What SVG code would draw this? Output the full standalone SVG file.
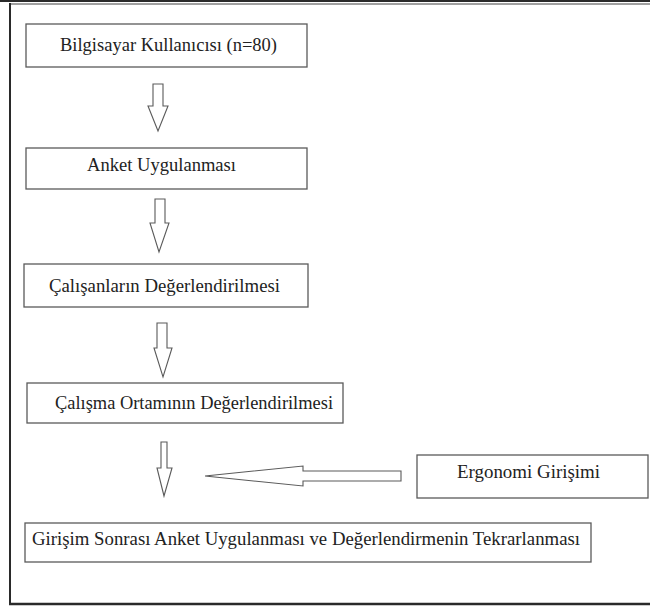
<svg xmlns="http://www.w3.org/2000/svg" width="650" height="607" viewBox="0 0 650 607">
<style>
.box{fill:#fff;stroke:#5a5a5a;stroke-width:1.3}
.arr{fill:#fff;stroke:#5a5a5a;stroke-width:1.1;stroke-linejoin:miter}
.t{font-family:'Liberation Serif','Times New Roman',serif;font-size:18.5px;fill:#222}
</style>
<rect width="650" height="607" fill="#fff"/>
<g id="frame">
<line x1="0" y1="1" x2="650" y2="1" stroke="#2a2a2a" stroke-width="2"/>
<line x1="10" y1="4" x2="650" y2="4" stroke="#808080" stroke-width="1.5"/>
<line x1="10" y1="3" x2="10" y2="605" stroke="#2a2a2a" stroke-width="2"/>
<line x1="9" y1="604" x2="650" y2="604" stroke="#2a2a2a" stroke-width="2.5"/>
</g>
<g id="n1"><rect class="box" x="26" y="24" width="281" height="43"/><text class="t" x="60" y="51" textLength="217" lengthAdjust="spacingAndGlyphs">Bilgisayar Kullanıcısı (n=80)</text></g>
<g id="n2"><rect class="box" x="26" y="148" width="281" height="41"/><text class="t" x="87" y="171" textLength="149" lengthAdjust="spacingAndGlyphs">Anket Uygulanması</text></g>
<g id="n3"><rect class="box" x="24" y="264" width="284" height="43"/><text class="t" x="49" y="292" textLength="231" lengthAdjust="spacingAndGlyphs">Çalışanların Değerlendirilmesi</text></g>
<g id="n4"><rect class="box" x="27" y="383" width="316" height="40"/><text class="t" x="55" y="409" textLength="278" lengthAdjust="spacingAndGlyphs">Çalışma Ortamının Değerlendirilmesi</text></g>
<g id="n5"><rect class="box" x="417" y="455" width="231" height="43"/><text class="t" x="457" y="478" textLength="143" lengthAdjust="spacingAndGlyphs">Ergonomi Girişimi</text></g>
<g id="n6"><rect class="box" x="25" y="523" width="566" height="39"/><text class="t" x="32" y="545" textLength="548" lengthAdjust="spacingAndGlyphs">Girişim Sonrası Anket Uygulanması ve Değerlendirmenin Tekrarlanması</text></g>
<g id="connectors">
<polygon class="arr" points="153,84 163,84 163,106 168,106 158,131 148,106 153,106"/>
<polygon class="arr" points="155,199 165,199 165,223 169,223 159,252 150,223 155,223"/>
<polygon class="arr" points="157,323 167,323 167,348 172,348 163,377 154,348 157,348"/>
<polygon class="arr" points="161,442 167,442 167,468 172,468 164,496 157,468 161,468"/>
<polygon class="arr" points="401,471 401,481 303,481 303,486 205,476 303,466 303,471"/>
</g>
</svg>
